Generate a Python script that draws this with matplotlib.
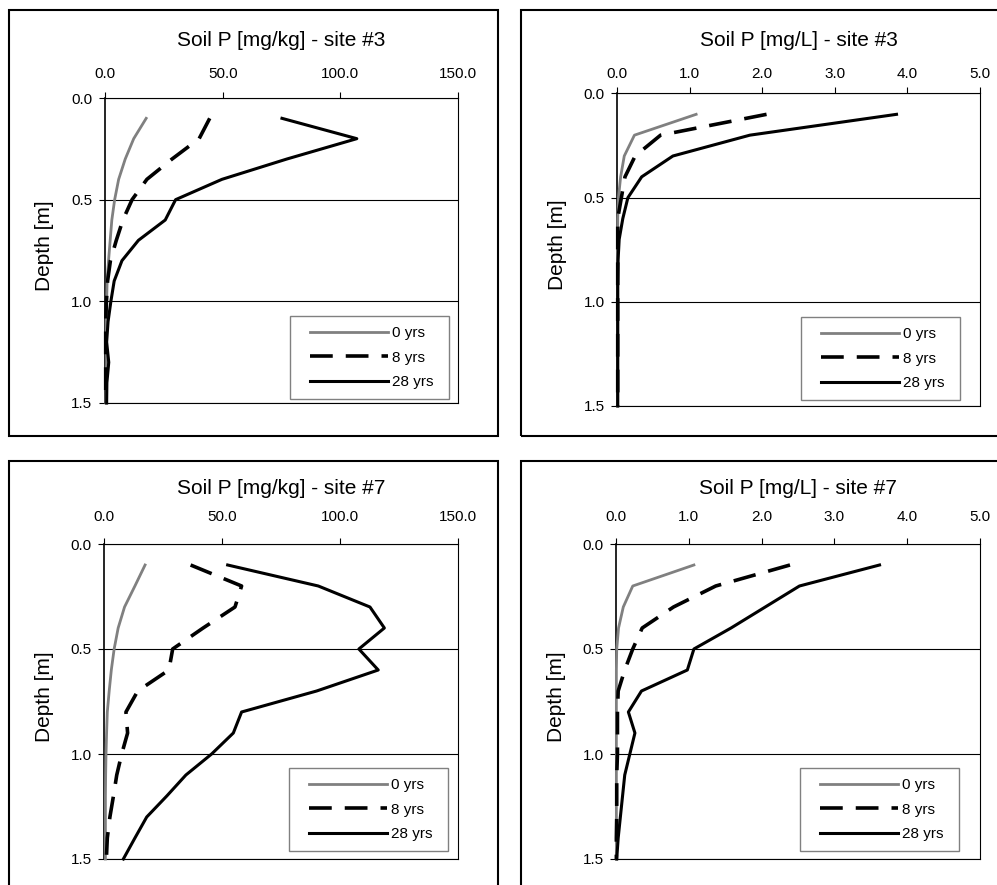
import matplotlib
matplotlib.use('Agg')
import matplotlib.pyplot as plt
from matplotlib.patches import Rectangle

plt.rcParams['font.family'] = ['Liberation Sans', 'DejaVu Sans']

# depth of each sample [m]
depth = [0.1, 0.2, 0.3, 0.4, 0.5, 0.6, 0.7, 0.8, 0.9, 1.0, 1.1, 1.2, 1.3, 1.4, 1.5]
labels = ['0 yrs', '8 yrs', '28 yrs']

# site #3, mg/kg
s3_kg_0 = [17.5, 12.2, 8.6, 5.8, 4.1, 2.9, 2.2, 1.5, 0.9, 0.7, 0.5, 0.6, 0.7, 0.5, 0.4]
s3_kg_8 = [44.5, 40.0, 28.5, 17.8, 11.5, 7.6, 4.8, 2.3, 1.1, 0.6, 0.3, 0.3, 0.3, 0.3, 0.3]
s3_kg_28 = [75.2, 107.0, 77.3, 49.7, 30.0, 25.6, 14.2, 7.2, 3.9, 2.5, 1.3, 0.7, 1.6, 0.8, 0.7]

# site #3, mg/L
s3_L_0 = [1.09, 0.24, 0.10, 0.05, 0.02, 0.01, 0.01, 0.01, 0.01, 0.01, 0.01, 0.01, 0.01, 0.01, 0.01]
s3_L_8 = [2.06, 0.60, 0.25, 0.11, 0.06, 0.01, 0.01, 0.01, 0.01, 0.01, 0.01, 0.01, 0.01, 0.01, 0.01]
s3_L_28 = [3.85, 1.83, 0.77, 0.34, 0.15, 0.08, 0.03, 0.015, 0.01, 0.01, 0.01, 0.01, 0.01, 0.01, 0.01]

# site #7, mg/kg
s7_kg_0 = [17.4, 13.1, 8.7, 6.0, 4.3, 3.1, 2.2, 1.4, 1.1, 0.85, 0.7, 0.6, 0.6, 0.6, 0.6]
s7_kg_8 = [36.7, 58.3, 55.5, 42.0, 29.1, 27.5, 14.3, 9.3, 10.0, 7.5, 5.4, 4.0, 2.5, 1.4, 1.0]
s7_kg_28 = [52.4, 90.8, 112.7, 118.8, 108.0, 116.2, 90.1, 58.3, 54.8, 45.6, 34.7, 26.6, 18.1, 13.1, 8.2]

# site #7, mg/L
s7_L_0 = [1.07, 0.23, 0.10, 0.035, 0.01, 0.005, 0.005, 0.005, 0.005, 0.005, 0.005, 0.005, 0.005, 0.005, 0.005]
s7_L_8 = [2.39, 1.37, 0.79, 0.36, 0.23, 0.12, 0.03, 0.02, 0.02, 0.02, 0.01, 0.01, 0.01, 0.005, 0.005]
s7_L_28 = [3.62, 2.52, 2.05, 1.58, 1.07, 0.98, 0.35, 0.17, 0.26, 0.19, 0.12, 0.09, 0.06, 0.03, 0.01]

W, H = 997, 885
fig = plt.figure(figsize=(W / 100, H / 100), dpi=100)
legends = []


def fx(px):
    return px / W


def fy(py):
    return 1 - py / H


def panel(box, rect, leg_xy, title, title_y, ticklabel_y, xmax, xstep, series):
    # outer chart border (Excel style)
    bx, by, bw, bh = box
    fig.add_artist(Rectangle((fx(bx), fy(by + bh)), bw / W, bh / H, fill=False,
                             ec='black', lw=1.5, transform=fig.transFigure))
    left, top, right, bottom = rect
    ax = fig.add_axes([fx(left), fy(bottom), (right - left) / W, (bottom - top) / H])

    ax.plot(series[0], depth, color='#808080', lw=2.0, label=labels[0], clip_on=False, zorder=3)
    ax.plot(series[1], depth, color='black', lw=2.6, dashes=(6.3, 3.6), label=labels[1],
            clip_on=False, zorder=4)
    ax.plot(series[2], depth, color='black', lw=2.2, label=labels[2], clip_on=False, zorder=5)

    ax.set_xlim(0, xmax)
    ax.set_ylim(1.5, 0)
    ax.set_xticks([i * xstep for i in range(int(round(xmax / xstep)) + 1)])
    ax.set_yticks([0, 0.5, 1.0, 1.5])
    ax.xaxis.set_major_formatter('{x:.1f}')
    ax.yaxis.set_major_formatter('{x:.1f}')
    ax.xaxis.tick_top()
    xpad = 9 + ((top - ticklabel_y) - 26) / 1.389
    ax.tick_params(axis='x', direction='out', length=4, width=0.8, pad=xpad, labelsize=11)
    ax.tick_params(axis='y', direction='out', length=4, width=0.8, pad=5, labelsize=11)
    ax.grid(axis='y', color='black', lw=0.8)
    for s in ax.spines.values():
        s.set_color('black')
        s.set_linewidth(0.8)
    ax.spines['left'].set_linewidth(1.2)

    # legend placed by its entries; the frame is drawn afterwards a bit wider
    lx, ly = leg_xy
    anchor = ((lx + 10 - left) / (right - left), (bottom - ly) / (bottom - top))
    leg = ax.legend(loc='upper left', bbox_to_anchor=anchor, borderaxespad=0,
                    fontsize=11, handlelength=5.1, handletextpad=0.25, labelspacing=0.7,
                    borderpad=0.65, frameon=False)
    legends.append(leg)

    cx = (left + right) / 2
    fig.text(fx(cx), fy(title_y), title, ha='center', va='center', fontsize=15)
    fig.text(fx(left - 60), fy((top + bottom) / 2 - 5), 'Depth [m]', rotation=90,
             ha='center', va='center', fontsize=15)
    return ax


panel((9, 10, 489, 426), (105, 98, 458, 403), (290, 316),
      'Soil P [mg/kg] - site #3', 41, 73, 150, 50, [s3_kg_0, s3_kg_8, s3_kg_28])
panel((521, 10, 489, 426), (617, 93.5, 980, 406), (801, 317),
      'Soil P [mg/L] - site #3', 41, 73, 5, 1, [s3_L_0, s3_L_8, s3_L_28])
panel((9, 461, 489, 427), (104, 544, 458, 859), (289, 768),
      'Soil P [mg/kg] - site #7', 489, 516, 150, 50, [s7_kg_0, s7_kg_8, s7_kg_28])
panel((521, 461, 489, 427), (616, 544, 980, 859), (800, 768),
      'Soil P [mg/L] - site #7', 489, 516, 5, 1, [s7_L_0, s7_L_8, s7_L_28])

# legend frames: grey box with extra room left and right of the entries
fig.canvas.draw()
inv = fig.transFigure.inverted()
for leg in legends:
    bb = leg.get_window_extent()
    (x0, y0), (x1, y1) = inv.transform([(bb.x0 - 10, bb.y0), (bb.x1 + 6, bb.y1)])
    fig.add_artist(Rectangle((x0, y0), x1 - x0, y1 - y0, fill=False,
                             ec='#808080', lw=1.0, transform=fig.transFigure, zorder=6))

fig.savefig('out.png', dpi=100)
